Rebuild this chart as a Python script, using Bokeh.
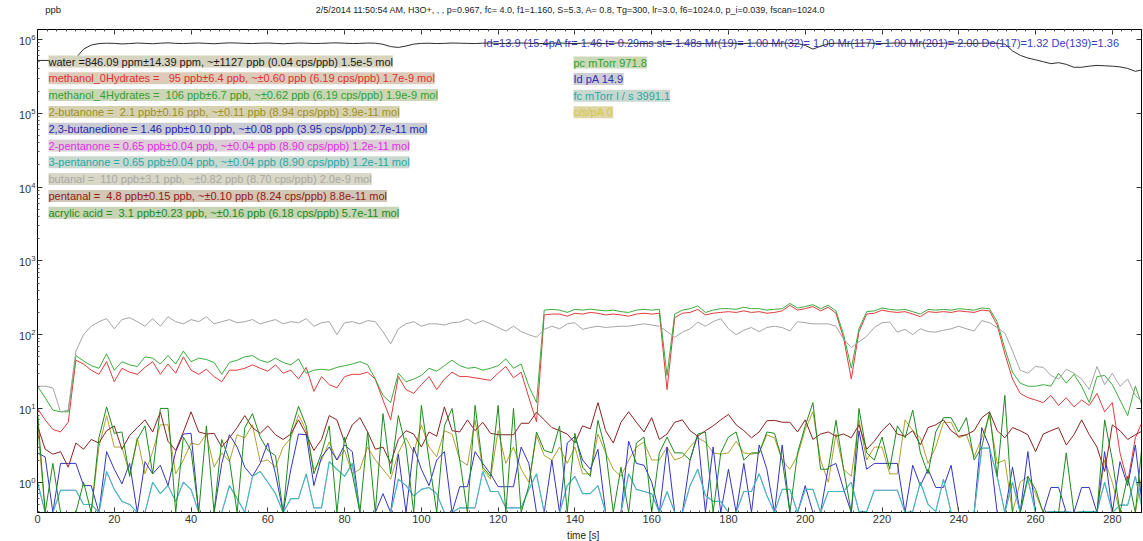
import numpy as np
from bokeh.plotting import figure
from bokeh.layouts import column
from bokeh.models import (LinearAxis, FixedTicker, Range1d, Label)
from bokeh.core.properties import value
from bokeh.embed import file_html
from bokeh.resources import INLINE

# ---------------- data ----------------
time_s = list(range(0, 289, 2))  # sample times [s]

water_ppm = [520, 520, 520, 520, 530, 560, 740, 840, 880, 890,
             885, 870, 880, 895, 885, 875, 890, 900, 885, 880,
             890, 895, 885, 875, 890, 900, 895, 885, 880, 890,
             895, 885, 875, 885, 895, 890, 880, 885, 895, 900,
             890, 880, 885, 895, 890, 860, 800, 780, 815, 865,
             885, 890, 880, 885, 895, 890, 885, 880, 890, 895,
             885, 880, 890, 895, 890, 875, 885, 890, 895, 885,
             880, 890, 895, 885, 880, 890, 900, 890, 885, 880,
             890, 895, 885, 875, 890, 895, 885, 880, 890, 895,
             890, 885, 880, 890, 895, 885, 880, 890, 885, 880,
             830, 740, 810, 875, 890, 885, 880, 890, 895, 885,
             880, 890, 895, 885, 880, 890, 885, 880, 890, 895,
             890, 885, 880, 890, 895, 885, 865, 700, 610, 560,
             530, 500, 470, 485, 460, 420, 420, 435, 445, 440,
             435, 425, 405, 370, 390]

methanol0_ppb = [10, 7, 5.2, 4.8, 6.5, 45, 40, 33, 29, 43,
                 23, 35, 31, 29, 36, 43, 29, 40, 30, 50,
                 33, 29, 34, 27, 23, 33, 33, 35, 39, 35,
                 32, 39, 30, 33, 25, 36, 17, 27, 21, 19,
                 27, 29, 29, 31, 25, 13, 7, 27, 18, 16,
                 21, 27, 18, 25, 31, 27, 27, 26, 25, 24,
                 30, 37, 26, 31, 14, 6.6, 185, 190, 190, 178,
                 195, 190, 200, 195, 185, 190, 185, 178, 190, 195,
                 190, 195, 18, 170, 195, 200, 220, 185, 195, 200,
                 205, 200, 210, 200, 205, 195, 200, 210, 250, 215,
                 225, 240, 210, 235, 195, 90, 25, 110, 190, 195,
                 215, 205, 200, 205, 190, 175, 205, 200, 205, 200,
                 210, 205, 200, 215, 210, 135, 55, 25, 16, 14,
                 13, 12, 15, 11, 14, 10.5, 13, 11, 16, 9,
                 12, 2.5, 1.0, 4.0, 7]

methanol4_ppb = [20, 14, 9.5, 9, 9, 52, 44, 38, 35, 55,
                 33, 43, 39, 37, 50, 48, 40, 52, 40, 60,
                 43, 48, 46, 42, 29, 42, 45, 50, 52, 45,
                 42, 48, 42, 39, 47, 30, 33, 34, 33, 36,
                 38, 40, 43, 39, 25, 15, 12, 30, 23, 25,
                 28, 35, 32, 38, 45, 38, 35, 36, 33, 35,
                 38, 47, 35, 40, 20, 12, 215, 220, 215, 200,
                 220, 215, 222, 215, 210, 215, 205, 200, 215, 220,
                 215, 220, 28, 190, 215, 225, 245, 200, 215, 225,
                 225, 220, 235, 225, 225, 215, 220, 225, 265, 230,
                 240, 255, 225, 250, 210, 100, 35, 120, 205, 210,
                 230, 220, 215, 220, 205, 190, 220, 215, 220, 215,
                 225, 220, 215, 230, 225, 150, 65, 31, 22, 20,
                 20, 21, 20, 30, 22, 29, 20, 12, 27, 28,
                 21, 13, 8, 20, 10]

butanone_ppb = [6, 0, 0, 0, 0, 0, 0, 0, 3.0, 8.0,
                3.0, 3.0, 1.3, 4.0, 1.3, 2.6, 6.0, 6.0, 1.3, 2.0,
                3.4, 3.2, 4.5, 1.6, 2.5, 1.9, 4.4, 4.0, 6.0, 1.9,
                2.0, 1.6, 3.0, 4.0, 8.2, 5.0, 1.5, 2.0, 3.5, 2.0,
                2.7, 1.3, 1.5, 3.0, 2.0, 1.5, 1.1, 2.5, 4.0, 2.5,
                6.0, 3.0, 2.2, 5.0, 4.5, 2.0, 1.7, 7.0, 1.5, 1.1,
                5.0, 1.8, 3.0, 1.5, 1.0, 4.3, 2.3, 2.0, 3.0, 1.8,
                3.0, 1.3, 1.3, 4.5, 2.5, 1.5, 1.2, 2.0, 3.0, 3.5,
                2.0, 2.0, 3.0, 2.0, 2.2, 3.0, 4.0, 3.5, 2.5, 2.4,
                2.5, 3.6, 2.5, 2.4, 2.5, 4.4, 4.0, 2.0, 1.5, 2.3,
                5.2, 9.0, 2.0, 1.0, 4.5, 1.5, 1.2, 7.0, 2.0, 3.0,
                3.0, 1.3, 1.3, 7.0, 5.0, 4.0, 1.8, 3.0, 6.5, 6.5,
                4.0, 4.4, 2.2, 4.0, 8.0, 1.8, 2.0, 0, 1.0, 1.2,
                0.7, 0, 0, 0, 0, 0, 0, 0, 0, 2.0,
                1.0, 0, 0, 0, 1.5]

butanedione_ppb = [2.5, 2.2, 0, 1.8, 1.8, 1.8, 0.9, 0.9, 0, 2.6,
                   1.5, 0.95, 1.8, 0, 1.9, 1.3, 1.7, 0.9, 2.6, 4.5,
                   4.6, 0, 0, 0, 1.8, 4.4, 3.0, 1.6, 1.2, 1.8,
                   3.4, 1.3, 0, 1.5, 4.5, 4.4, 0.9, 2.2, 3.0, 2.0,
                   3.2, 2.6, 0, 0, 0, 0.7, 0, 2.4, 0, 3.0,
                   1.5, 0.9, 2.0, 2.6, 0, 0.87, 0.87, 2.6, 1.8, 1.3,
                   0.87, 0.87, 0.87, 3.0, 1.8, 0, 0, 2.0, 0, 3.4,
                   4.2, 2.0, 1.5, 2.8, 0, 0, 0, 3.6, 1.8, 1.7,
                   1.0, 0, 3.0, 0, 0, 2.0, 4.4, 0, 3.0, 0,
                   1.5, 0, 1.8, 0, 3.2, 1.5, 0, 3.2, 0, 0,
                   0.9, 0, 0, 1.6, 1.8, 0.8, 0, 5.0, 1.5, 1.8,
                   1.8, 1.8, 1.8, 0, 1.7, 0.9, 1.5, 0.85, 0.85, 1.7,
                   0, 0, 0, 5.5, 3.0, 0, 0, 1.6, 0, 2.6,
                   0, 0, 0.85, 0.85, 0, 0, 0.85, 0.85, 0, 2.6,
                   0, 1.9, 0.9, 3.2, 0]

pentanone3_ppb = [1.0, 0, 0, 0.78, 0.78, 0.78, 0.5, 0.5, 0, 1.4,
                  0.8, 0.55, 0.5, 0, 0, 1.0, 0.7, 0.9, 0.55, 1.0,
                  0.8, 0, 0, 0, 0, 0.9, 0.6, 0, 1.2, 1.4,
                  1.0, 0.7, 0, 0.6, 0.6, 1.3, 0.45, 0.45, 1.9, 1.5,
                  1.2, 1.8, 0, 0, 0, 0, 0, 1.1, 0.9, 0.65,
                  0.8, 0.85, 0.7, 0, 0, 0.45, 0.45, 0.45, 1.4, 0.75,
                  0.75, 0.45, 0.45, 0.45, 0.8, 1.3, 0, 0, 0, 0.9,
                  1.2, 0.7, 0.7, 0.9, 0, 0, 0, 1.3, 0.8, 0.75,
                  0.7, 0, 0.75, 0, 0, 0.9, 1.5, 0.66, 0.55, 0.55,
                  0, 0, 0.75, 0.75, 1.3, 0.66, 0, 0.8, 0.8, 0,
                  0.8, 0.8, 0, 0.75, 0.75, 0.75, 1.0, 0.4, 0.4, 0.78,
                  0.78, 0.78, 0.78, 0, 0.4, 1.0, 0.5, 0.4, 1.1, 0,
                  0, 0, 0, 2.9, 2.9, 1.2, 0, 1.0, 0, 1.1,
                  0, 0, 0.4, 0.4, 0.4, 0, 0.4, 0.4, 0.4, 1.0,
                  0, 0.49, 0.49, 1.2, 0]

# 2-pentanone shows the same readings as 3-pentanone (hidden beneath it)
pentanone2_ppb = list(pentanone3_ppb)

butanal_ppb = [20, 20, 19, 9, 9.5, 60, 100, 130, 150, 165,
               120, 160, 170, 150, 130, 165, 130, 175, 150, 140,
               160, 150, 175, 140, 150, 160, 145, 150, 160, 140,
               150, 160, 140, 150, 145, 165, 130, 145, 150, 100,
               145, 150, 140, 155, 150, 110, 75, 120, 140, 150,
               130, 140, 140, 135, 145, 148, 163, 140, 155, 140,
               125, 112, 130, 110, 100, 92, 118, 130, 120, 140,
               145, 118, 125, 130, 125, 128, 130, 130, 135, 140,
               135, 130, 110, 92, 108, 120, 148, 130, 150, 165,
               120, 100, 115, 125, 110, 125, 130, 125, 112, 150,
               145, 140, 140, 140, 130, 87, 67, 80, 95, 125,
               145, 148, 108, 118, 100, 120, 110, 108, 115, 120,
               130, 120, 112, 155, 145, 125, 105, 60, 33, 30,
               37, 36, 28, 25, 34, 30, 25, 18, 37, 21,
               30, 20, 25, 15, 12]

pentanal_ppb = [5.8, 2.8, 2.4, 2.6, 1.6, 3.4, 2.8, 3.8, 3.4, 5.0,
                5.8, 2.8, 4.3, 5.5, 7.0, 4.8, 8.9, 3.6, 2.7, 4.8,
                9.0, 4.8, 4.5, 4.6, 3.0, 4.0, 5.5, 8.0, 5.5, 4.6,
                5.8, 4.4, 3.8, 4.5, 7.0, 4.5, 2.7, 3.8, 8.0, 7.0,
                3.5, 6.0, 7.5, 4.8, 2.8, 3.0, 1.8, 3.8, 5.0, 4.5,
                3.0, 4.8, 4.2, 10.5, 5.0, 4.8, 7.0, 5.0, 6.5, 4.6,
                4.4, 4.4, 4.4, 6.3, 6.3, 8.9, 7.0, 5.5, 5.0, 4.5,
                3.4, 5.8, 5.3, 12, 5.0, 3.4, 6.5, 9.0, 6.5, 4.8,
                7.5, 3.8, 4.5, 6.5, 7.0, 5.0, 4.2, 5.0, 5.8, 7.0,
                8.3, 6.0, 5.0, 4.0, 4.8, 6.8, 6.9, 6.5, 6.5, 4.8,
                7.0, 3.8, 4.5, 4.8, 4.2, 4.5, 4.0, 6.0, 2.8, 3.6,
                5.0, 6.3, 4.5, 4.2, 5.0, 3.2, 5.5, 6.0, 7.0, 5.0,
                4.2, 4.4, 5.0, 7.5, 9.0, 5.0, 4.0, 5.5, 5.0, 4.4,
                2.6, 4.5, 5.0, 5.5, 3.2, 4.4, 7.0, 4.4, 3.0, 1.4,
                6.0, 5.0, 3.8, 4.4, 5.0]

acrylic_ppb = [9, 0, 1.8, 0, 0, 0, 1.0, 0, 4.0, 10.5,
               4.6, 4.8, 1.2, 3.8, 5.8, 1.3, 10, 10, 0, 4.1,
               2.7, 0, 5.8, 0, 3.8, 2.0, 0, 5.5, 8.5, 4.1,
               2.7, 2.3, 0, 4.8, 10.7, 5.8, 1.3, 2.5, 5.8, 0,
               4.1, 1.3, 0, 4.8, 0, 8.5, 1.3, 8.0, 3.0, 0,
               11, 2.0, 0, 5.8, 10, 2.0, 0, 11, 1.6, 1.2,
               11, 0, 10, 0, 0.9, 4.8, 2.7, 2.5, 5.8, 0,
               4.6, 1.6, 1.2, 6.9, 2.7, 0, 1.6, 0, 3.4, 4.1,
               0, 2.5, 4.1, 2.5, 2.5, 2.0, 4.5, 4.8, 0, 2.5,
               4.1, 4.8, 2.0, 2.5, 2.5, 4.8, 4.6, 2.0, 0, 2.5,
               5.8, 12, 1.5, 1.5, 6.9, 1.5, 0, 10, 2.5, 2.0,
               4.1, 1.5, 5.8, 4.0, 9.5, 2.5, 1.3, 4.8, 7.5, 7.5,
               4.8, 7.5, 2.0, 3.0, 9.0, 1.2, 15, 0, 0, 1.2,
               0.8, 0, 0, 0, 2.5, 0, 0, 0, 0, 7.0,
               2.0, 0, 1.2, 0, 4.4]

NB = "\u00a0"  # keeps the double spaces of the original legend
legend_texts = [
    "water =846.09 ppm\u00b114.39 ppm, ~\u00b11127 ppb (0.04 cps/ppb) 1.5e-5 mol",
    "methanol_0Hydrates = " + NB + NB + "95 ppb\u00b16.4 ppb, ~\u00b10.60 ppb (6.19 cps/ppb) 1.7e-9 mol",
    "methanol_4Hydrates = " + NB + "106 ppb\u00b16.7 ppb, ~\u00b10.62 ppb (6.19 cps/ppb) 1.9e-9 mol",
    "2-butanone = " + NB + "2.1 ppb\u00b10.16 ppb, ~\u00b10.11 ppb (8.94 cps/ppb) 3.9e-11 mol",
    "2,3-butanedione = 1.46 ppb\u00b10.10 ppb, ~\u00b10.08 ppb (3.95 cps/ppb) 2.7e-11 mol",
    "2-pentanone = 0.65 ppb\u00b10.04 ppb, ~\u00b10.04 ppb (8.90 cps/ppb) 1.2e-11 mol",
    "3-pentanone = 0.65 ppb\u00b10.04 ppb, ~\u00b10.04 ppb (8.90 cps/ppb) 1.2e-11 mol",
    "butanal = " + NB + "110 ppb\u00b13.1 ppb, ~\u00b10.82 ppb (8.70 cps/ppb) 2.0e-9 mol",
    "pentanal = " + NB + "4.8 ppb\u00b10.15 ppb, ~\u00b10.10 ppb (8.24 cps/ppb) 8.8e-11 mol",
    "acrylic acid = " + NB + "3.1 ppb\u00b10.23 ppb, ~\u00b10.16 ppb (6.18 cps/ppb) 5.7e-11 mol",
]
info_texts = ["pc mTorr 971.8", "Id pA 14.9", "fc mTorr l / s 3991.1", "c/s/pA 0"]
title_text = ("2/5/2014 11:50:54 AM, H3O+, , , p=0.967, fc= 4.0, f1=1.160, S=5.3, A= 0.8, "
              "Tg=300, lr=3.0, f6=1024.0, p_i=0.039, fscan=1024.0")
header_text = ("Id=13.9 (15.4pA fr= 1.46 t= 0.29ms st= 1.48s Mr(19)= 1.00 Mr(32)= 1.00 "
               "Mr(117)= 1.00 Mr(201)= 2.00 De(117)=1.32 De(139)=1.36")
y_unit_text = "ppb"
x_axis_text = "time [s]"
x_ticks = [0, 20, 40, 60, 80, 100, 120, 140, 160, 180, 200, 220, 240, 260, 280]
y_ticks = [1, 10, 100, 1e3, 1e4, 1e5, 1e6]

# ---------------- styling ----------------
FONT = "Liberation Sans"
Y_MIN, Y_MAX = 0.389, 1.365e6
X_MAX = 287.6
W = 1143
HEAD_H, MAIN_H, FOOT_H = 19, 509, 13

series = [
    ("water", [v * 1000 for v in water_ppm], "#2e2e2e", 1.0),
    ("methanol_0Hydrates", methanol0_ppb, "#e03c3c", 1.0),
    ("methanol_4Hydrates", methanol4_ppb, "#3cac3c", 1.0),
    ("2-butanone", butanone_ppb, "#b0a030", 1.0),
    ("2,3-butanedione", butanedione_ppb, "#3434c4", 1.0),
    ("2-pentanone", pentanone2_ppb, "#e040e0", 0.6),
    ("3-pentanone", pentanone3_ppb, "#3cbcbc", 1.1),
    ("butanal", butanal_ppb, "#a4a4a4", 1.0),
    ("pentanal", pentanal_ppb, "#8c2020", 1.0),
    ("acrylic acid", acrylic_ppb, "#1e8a1e", 1.0),
]
text_colors = ["#1a1a1a", "#e03030", "#30a030", "#a09020", "#2828b0",
               "#e030e0", "#28a8a8", "#a8a8a8", "#901818", "#208a20"]
legend_bgs = ["#d6d4bf", "#dccbb9", "#cbd6b6", "#d6d1b3", "#cbcbd4",
              "#dccdd6", "#c9d9cf", "#d9d7c6", "#d4c6b4", "#c8d5b4"]
info_colors = ["#30a030", "#3030b0", "#28a8a8", "#d8c840"]
info_bgs = ["#cbd9b8", "#cdcdd6", "#c9d8cf", "#ddd6a8"]

def text_strip(height):
    f = figure(width=W, height=height, x_range=Range1d(0, W), y_range=Range1d(height, 0),
               output_backend="svg", toolbar_location=None, title=None,
               x_axis_location=None, y_axis_location=None,
               min_border_left=0, min_border_right=0, min_border_top=0, min_border_bottom=0)
    f.xgrid.visible = False
    f.ygrid.visible = False
    f.outline_line_color = None
    f.background_fill_color = "white"
    f.border_fill_color = "white"
    return f

# header strip: unit label and acquisition title
head = text_strip(HEAD_H)
head.text(x=[8], y=[9], text=[y_unit_text], text_font=value(FONT), text_font_size=value("9.5px"),
          text_color="#222222", text_baseline="middle", text_align="left")
head.text(x=[288], y=[9], text=[title_text], text_font=value(FONT), text_font_size=value("9px"),
          text_color="#222222", text_baseline="middle", text_align="left")

# main plot
p = figure(width=W, height=MAIN_H, x_range=Range1d(0, X_MAX), y_range=Range1d(Y_MIN, Y_MAX),
           y_axis_type="log", output_backend="svg", toolbar_location=None, title=None,
           min_border_left=37, min_border_right=2, min_border_top=10, min_border_bottom=16)
p.xgrid.visible = False
p.ygrid.visible = False
p.outline_line_color = "black"
p.background_fill_color = "white"
p.border_fill_color = "white"

x_minor = [i * 2.5 for i in range(0, 116)]
y_minor = [k * 10.0 ** e for e in range(-1, 7) for k in range(2, 10)]

def style_axis(ax, labels=True):
    ax.major_tick_in = 5
    ax.major_tick_out = 0
    ax.minor_tick_in = 2
    ax.minor_tick_out = 0
    ax.axis_line_color = "black"
    ax.major_tick_line_color = "#333333"
    ax.minor_tick_line_color = "#555555"
    ax.major_label_text_font = FONT
    ax.major_label_text_font_size = "11px" if labels else "1px"
    ax.major_label_text_color = "#333333"
    ax.major_label_standoff = 2 if labels else 0

p.xaxis[0].ticker = FixedTicker(ticks=x_ticks, minor_ticks=x_minor)
p.yaxis[0].ticker = FixedTicker(ticks=y_ticks, minor_ticks=y_minor)
style_axis(p.xaxis[0])
style_axis(p.yaxis[0])

# tick-only frame axes on top and right (labels blanked)
top_ax = LinearAxis(ticker=FixedTicker(ticks=x_ticks, minor_ticks=x_minor),
                    major_label_overrides={t: "" for t in x_ticks})
style_axis(top_ax, labels=False)
p.add_layout(top_ax, "above")
right_ax = LinearAxis(ticker=FixedTicker(ticks=y_ticks, minor_ticks=[]),
                      major_label_overrides={t: "" for t in y_ticks})
style_axis(right_ax, labels=False)
p.add_layout(right_ax, "right")

FB = HEAD_H + MAIN_H - 16  # window y of the frame bottom
# label positions: x = x_ref - 37, y = FB - y_ref

# header text drawn beneath the traces (water line crosses it)
p.add_layout(Label(x=483 - 37, y=FB - 42, x_units="screen", y_units="screen", text=header_text,
                   text_color="#3a3ac8", text_font=FONT, text_font_size="11px",
                   text_baseline="middle", level="underlay"))

for name, vals, col, lw in series:
    arr = np.array(vals, dtype=float)
    arr = np.where(arr > 0, arr, Y_MIN)
    x = time_s[:len(arr)]
    p.line(x, arr, line_color=col, line_width=lw)

# legend boxes
for i, (txt, tc, bg) in enumerate(zip(legend_texts, text_colors, legend_bgs)):
    p.add_layout(Label(x=48 - 37, y=FB - 61 - i * 16.8, x_units="screen", y_units="screen",
                       text=txt, text_color=tc, text_font=FONT, text_font_size="11px",
                       text_baseline="middle", background_fill_color=bg,
                       background_fill_alpha=1.0))

for i, (txt, tc, bg) in enumerate(zip(info_texts, info_colors, info_bgs)):
    p.add_layout(Label(x=573 - 37, y=FB - 62 - i * 16.6, x_units="screen", y_units="screen",
                       text=txt, text_color=tc, text_font=FONT, text_font_size="11px",
                       text_baseline="middle", background_fill_color=bg,
                       background_fill_alpha=1.0))

# footer strip: x axis title
foot = text_strip(FOOT_H)
foot.text(x=[565], y=[6.5], text=[x_axis_text], text_font=value(FONT), text_font_size=value("10px"),
          text_color="#222222", text_baseline="middle", text_align="center")

layout = column(head, p, foot, spacing=0)
open("out.html", "w").write(file_html(layout, INLINE))
